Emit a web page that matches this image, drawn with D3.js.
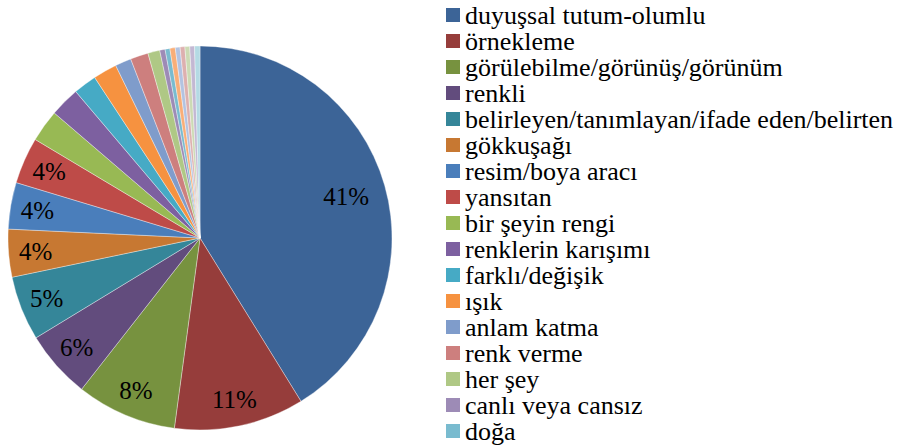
<!DOCTYPE html>
<html>
<head>
<meta charset="utf-8">
<script src="https://cdn.jsdelivr.net/npm/d3@7"></script>
<style>
  svg text { font-family: "Liberation Serif", Tinos, "Times New Roman" !important; }
</style>
</head>
<body style="margin:0">
<svg id="chart" width="910" height="448" font-family="Liberation Serif"></svg>
<script>
// categories, as in the legend (the last six slices fall below the visible legend)
const categories = [
  'duyuşsal tutum-olumlu', 'örnekleme', 'görülebilme/görünüş/görünüm', 'renkli',
  'belirleyen/tanımlayan/ifade eden/belirten', 'gökkuşağı', 'resim/boya aracı', 'yansıtan',
  'bir şeyin rengi', 'renklerin karışımı', 'farklı/değişik', 'ışık', 'anlam katma',
  'renk verme', 'her şey', 'canlı veya cansız', 'doğa',
  'diğer 1', 'diğer 2', 'diğer 3', 'diğer 4', 'diğer 5', 'diğer 6'
]
// share in percent
const values = [
  41.0, 10.9, 8.4, 5.7, 5.4, 4.0, 3.9, 3.9,
  2.7, 2.5, 1.95, 2.0, 1.35, 1.5, 1.0, 0.45, 0.4,
  0.45, 0.4, 0.4, 0.4, 0.4, 0.45
]
const colors = [
  '#3c6497', '#963d3b', '#77923f', '#624c7d', '#358699', '#c77832',
  '#4a7ebb', '#be4b48', '#98b954', '#7d60a0', '#46aac5', '#f69240',
  '#7f9ccb', '#cd7f7e', '#afc885', '#9d8bb6', '#79bbcf',
  '#f9ae78', '#b3c3e1', '#ddb0af', '#ccdab4', '#c3b8d3', '#b4dae4'
]
// the legend box only has room for the first 17 entries
const legendCount = 17

const data = categories.map((name, i) => ({ name, value: values[i] }))
const total = d3.sum(values)

const svg = d3.select('#chart')
const cx = 200
const cy = 238
const radius = 192

const color = d3.scaleOrdinal().domain(categories).range(colors)

const pie = d3.pie().value(d => d.value).sort(null)
const arc = d3.arc().innerRadius(0).outerRadius(radius)

const g = svg.append('g').attr('transform', `translate(${cx},${cy})`)
const arcs = pie(data)

g.selectAll('path.slice')
  .data(arcs)
  .enter()
  .append('path')
  .attr('class', 'slice')
  .attr('d', arc)
  .attr('fill', d => color(d.data.name))
  .attr('stroke', '#ffffff')
  .attr('stroke-opacity', 0.6)
  .attr('stroke-width', 0.6)

// percentage labels only on the bigger slices
const labelArcBig = d3.arc().innerRadius(152).outerRadius(152)
const labelArcSmall = d3.arc().innerRadius(165).outerRadius(165)
const labelPos = d => (d.data.value / total > 0.2 ? labelArcBig : labelArcSmall).centroid(d)

g.selectAll('text.pct')
  .data(arcs.filter(d => d.data.value / total >= 0.035))
  .enter()
  .append('text')
  .attr('class', 'pct')
  .attr('x', d => labelPos(d)[0])
  .attr('y', d => labelPos(d)[1] + 8.5)
  .attr('text-anchor', 'middle')
  .attr('font-size', 25)
  .attr('font-family', 'Liberation Serif')
  .style('font-family', '"Liberation Serif"')
  .attr('fill', '#000')
  .text(d => Math.round(d.data.value / total * 100) + '%')

// legend
const rowH = 26

const item = svg.selectAll('g.item')
  .data(categories.slice(0, legendCount))
  .enter()
  .append('g')
  .attr('class', 'item')
  .attr('transform', (d, i) => `translate(446,${8 + i * rowH})`)

item.append('rect')
  .attr('width', 14)
  .attr('height', 14)
  .attr('fill', d => color(d))

item.append('text')
  .attr('x', 19)
  .attr('y', 16)
  .attr('font-size', 26)
  .attr('font-family', 'Liberation Serif')
  .style('font-family', '"Liberation Serif"')
  .attr('fill', '#000')
  .text(d => d)
</script>
</body>
</html>
